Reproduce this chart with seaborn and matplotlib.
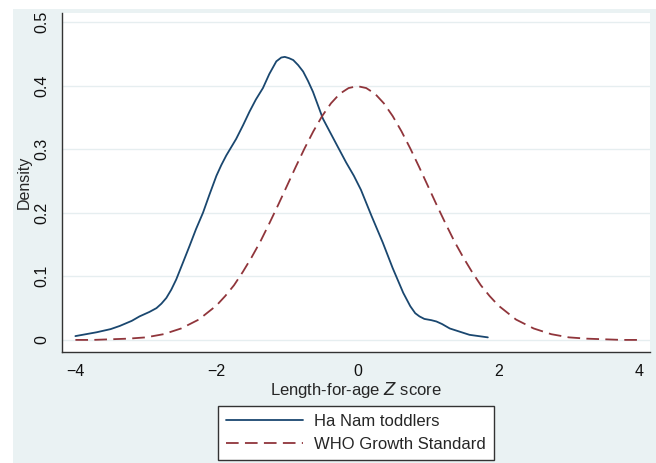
import numpy as np
import pandas as pd
import matplotlib
matplotlib.use("Agg")
import matplotlib.pyplot as plt
import seaborn as sns

# Ha Nam toddlers: kernel density
hanam_z = [-4.0, -3.85, -3.7, -3.5, -3.37, -3.2, -3.09, -2.95, -2.85, -2.78, -2.71,
           -2.64, -2.57, -2.48, -2.38, -2.29, -2.19, -2.1, -2.0, -1.93, -1.86,
           -1.72, -1.62, -1.53, -1.44, -1.34, -1.25, -1.15, -1.08, -1.03, -0.97,
           -0.91, -0.84, -0.77, -0.7, -0.63, -0.56, -0.49, -0.39, -0.28, -0.16,
           -0.05, 0.05, 0.2, 0.36, 0.5, 0.65, 0.75, 0.82, 0.88, 0.95, 1.05,
           1.12, 1.2, 1.31, 1.45, 1.59, 1.72, 1.85]
hanam_density = [0.006, 0.009, 0.012, 0.017, 0.022, 0.030, 0.037, 0.044, 0.050, 0.057, 0.066,
                 0.079, 0.095, 0.120, 0.148, 0.174, 0.200, 0.228, 0.258, 0.275, 0.290,
                 0.316, 0.338, 0.359, 0.378, 0.396, 0.418, 0.438, 0.444, 0.445, 0.443,
                 0.440, 0.432, 0.422, 0.407, 0.390, 0.369, 0.348, 0.327, 0.304, 0.279,
                 0.258, 0.236, 0.195, 0.153, 0.113, 0.074, 0.053, 0.042, 0.037, 0.033, 0.031,
                 0.029, 0.025, 0.018, 0.013, 0.008, 0.006, 0.004]

# WHO Growth Standard reference curve
who_z = [-4.0, -3.75, -3.5, -3.25, -3.0, -2.75, -2.5, -2.25, -2.0, -1.875, -1.75, -1.625,
         -1.5, -1.375, -1.25, -1.125, -1.0, -0.875, -0.75, -0.625, -0.5, -0.375,
         -0.25, -0.125, 0.0, 0.125, 0.25, 0.375, 0.5, 0.625, 0.75, 0.875, 1.0,
         1.125, 1.25, 1.375, 1.5, 1.625, 1.75, 1.875, 2.0, 2.25, 2.5, 2.75, 3.0,
         3.25, 3.5, 3.75, 4.0]
who_density = [0.000, 0.000, 0.001, 0.002, 0.004, 0.009, 0.018, 0.032, 0.054, 0.069, 0.086, 0.107,
               0.130, 0.155, 0.183, 0.212, 0.242, 0.272, 0.301, 0.328, 0.352, 0.372,
               0.387, 0.396, 0.399, 0.396, 0.387, 0.372, 0.352, 0.328, 0.301, 0.272, 0.242,
               0.212, 0.183, 0.155, 0.130, 0.107, 0.086, 0.069, 0.054, 0.032, 0.018, 0.009, 0.004,
               0.002, 0.001, 0.000, 0.000]

x_ticks = [-4, -2, 0, 2, 4]
x_tick_labels = ["\u22124", "\u22122", "0", "2", "4"]
y_ticks = [0, 0.1, 0.2, 0.3, 0.4, 0.5]
y_tick_labels = ["0", "0.1", "0.2", "0.3", "0.4", "0.5"]

sns.set_style("white")
plt.rcParams["font.family"] = ["Liberation Sans", "DejaVu Sans"]

navy = "#1a476f"
maroon = "#90353b"
bg = "#eaf2f3"

fig = plt.figure(figsize=(6.56, 4.63), dpi=100)
fig.patch.set_facecolor("white")
fig.patches.append(plt.Rectangle((13 / 656, 0), 1 - 13 / 656, (463 - 9) / 463,
                                 transform=fig.transFigure, facecolor=bg,
                                 edgecolor="none", zorder=-10))
ax = fig.add_axes([62 / 656, (463 - 352) / 463, (650 - 62) / 656, (352 - 13) / 463])
ax.set_facecolor("white")

df_h = pd.DataFrame({"z": hanam_z, "density": hanam_density})
df_w = pd.DataFrame({"z": who_z, "density": who_density})
sns.lineplot(data=df_h, x="z", y="density", ax=ax, color=navy, lw=1.3,
             label="Ha Nam toddlers")
sns.lineplot(data=df_w, x="z", y="density", ax=ax, color=maroon, lw=1.3,
             label="WHO Growth Standard")
ax.lines[1].set_dashes([7, 3.5])

ax.set_xlim(-4.19, 4.15)
ax.set_ylim(-0.019, 0.514)
ax.set_xticks(x_ticks)
ax.set_xticklabels(x_tick_labels)
ax.set_yticks(y_ticks)
ax.set_yticklabels(y_tick_labels, rotation=90, va="center")
ax.tick_params(axis="both", direction="out", length=5, width=1, color="#333333",
               labelsize=11.5, labelcolor="#111111", pad=4)
ax.yaxis.grid(True, color="#e6eef0", lw=1)
ax.xaxis.grid(False)

for side in ["top", "right"]:
    ax.spines[side].set_visible(False)
for side in ["left", "bottom"]:
    ax.spines[side].set_color("#333333")
    ax.spines[side].set_linewidth(1)

ax.set_xlabel("Length-for-age $\\mathit{Z}$ score", fontsize=12, labelpad=0)
ax.set_ylabel("Density", fontsize=11.5, labelpad=2)

ax.get_legend().remove()
leg = fig.legend(handles=ax.lines[:2], labels=["Ha Nam toddlers", "WHO Growth Standard"],
                 loc="center", bbox_to_anchor=(356 / 656, 30 / 463),
                 bbox_transform=fig.transFigure, fontsize=12, handlelength=4.6,
                 frameon=True, fancybox=False, framealpha=1, edgecolor="#333333",
                 borderpad=0.45, labelspacing=0.5, handletextpad=0.7)
leg.get_frame().set_linewidth(1)

fig.savefig("out.png", dpi=100, facecolor=fig.get_facecolor())
